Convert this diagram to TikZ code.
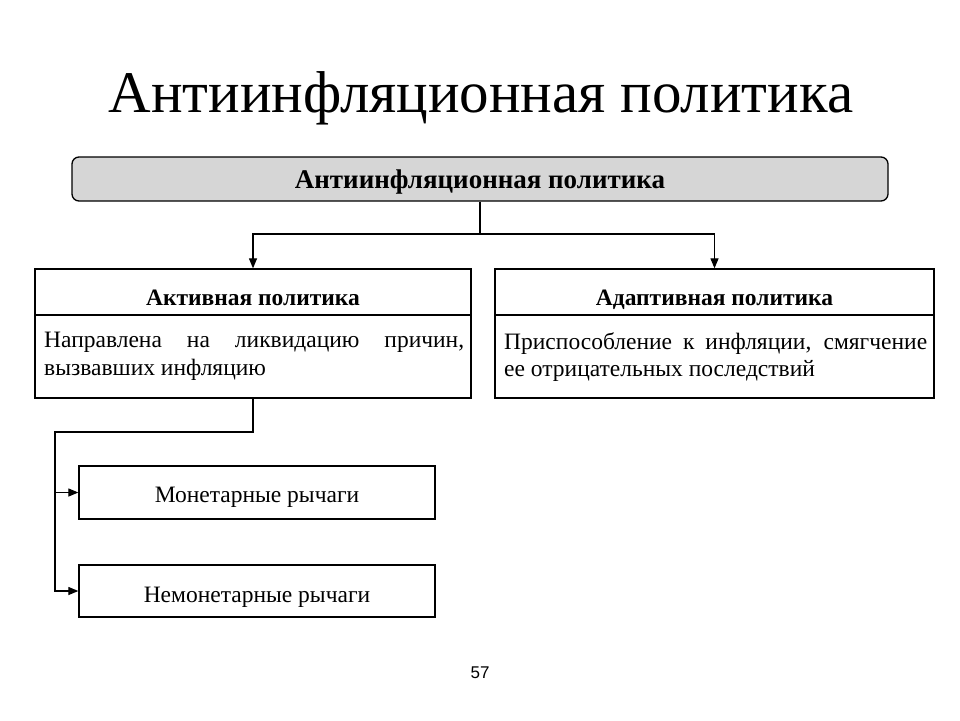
\documentclass[tikz,border=0pt]{standalone}
\usepackage{fontspec}
\setmainfont{Liberation Serif}
\newfontfamily\numfont{Liberation Sans}
\usetikzlibrary{arrows.meta}
\definecolor{topgray}{HTML}{D6D6D6}
\tikzset{
  box/.style={draw=black, line width=1.3pt, rectangle, inner sep=0pt},
  conn/.style={draw=black, line width=1.2pt},
  arr/.style={conn, -{Triangle[length=10pt,width=8pt]}},
  bodytext/.style={font=\fontsize{23.5}{27.5}\selectfont, text width=420pt, align=justify, inner sep=0pt},
  headtext/.style={font=\bfseries\fontsize{23.5}{26}\selectfont, inner sep=0pt, anchor=base},
  leaftext/.style={font=\fontsize{23.5}{27}\selectfont, inner sep=0pt, anchor=base}
}
\begin{document}
\begin{tikzpicture}[x=1pt,y=-1pt]
\useasboundingbox (0,0) rectangle (960,720);
\node[font=\fontsize{59}{64}\selectfont, inner sep=0pt, anchor=base] (title) at (481,112) {Антиинфляционная политика};
\node[box, fill=topgray, rounded corners=7pt, minimum width=816pt, minimum height=44pt] (top) at (480,179) {};
\node[font=\bfseries\fontsize{27}{30}\selectfont, inner sep=0pt, anchor=base] (toptext) at (480,188) {Антиинфляционная политика};
% left
\node[box, minimum width=436pt, minimum height=46pt] (acth) at (253,292) {};
\node[headtext] (actht) at (253,305) {Активная политика};
\node[box, minimum width=436pt, minimum height=83pt] (actb) at (253,356.5) {};
\node[bodytext, anchor=north west] (actt) at (44,332) {Направлена на ликвидацию причин, вызвавших инфляцию};
% right
\node[box, minimum width=439pt, minimum height=46pt] (adh) at (714.5,292) {};
\node[headtext] (adht) at (714.5,305) {Адаптивная политика};
\node[box, minimum width=439pt, minimum height=83pt] (adb) at (714.5,356.5) {};
\node[bodytext, text width=423pt, anchor=north west] (adt) at (504,332) {Приспособление к инфляции, смягчение ее отрицательных последствий};
% leaves
\node[box, minimum width=356pt, minimum height=53pt] (mon) at (257,492.5) {};
\node[leaftext] (mont) at (257,502) {Монетарные рычаги};
\node[box, minimum width=356pt, minimum height=52pt] (nonmon) at (257,591) {};
\node[leaftext] (nonmont) at (257,602) {Немонетарные рычаги};
% connectors
\coordinate (j) at (480,234);
\draw[conn] (top.south) -- (j);
\draw[arr] (j) -| (acth.north);
\draw[arr] (j) -| (adh.north);
\coordinate (k) at (253,432);
\coordinate (l) at (55,432);
\draw[arr] (actb.south) -- (k) -- (l) |- (nonmon.west);
\draw[arr] (l |- mon.west) -- (mon.west);
\node[font=\numfont\fontsize{17}{19}\selectfont] (num) at (480,673) {57};
\end{tikzpicture}
\end{document}
